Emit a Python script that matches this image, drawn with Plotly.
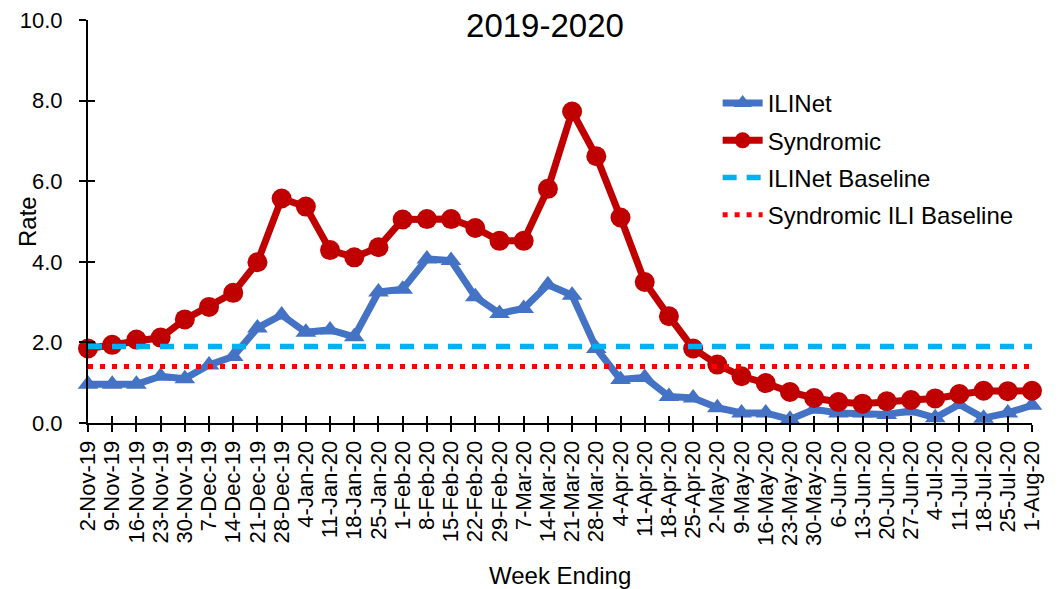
import plotly.graph_objects as go

weeks = ["2-Nov-19", "9-Nov-19", "16-Nov-19", "23-Nov-19", "30-Nov-19",
         "7-Dec-19", "14-Dec-19", "21-Dec-19", "28-Dec-19",
         "4-Jan-20", "11-Jan-20", "18-Jan-20", "25-Jan-20",
         "1-Feb-20", "8-Feb-20", "15-Feb-20", "22-Feb-20", "29-Feb-20",
         "7-Mar-20", "14-Mar-20", "21-Mar-20", "28-Mar-20",
         "4-Apr-20", "11-Apr-20", "18-Apr-20", "25-Apr-20",
         "2-May-20", "9-May-20", "16-May-20", "23-May-20", "30-May-20",
         "6-Jun-20", "13-Jun-20", "20-Jun-20", "27-Jun-20",
         "4-Jul-20", "11-Jul-20", "18-Jul-20", "25-Jul-20", "1-Aug-20"]

ilinet = [0.96, 0.96, 0.96, 1.16, 1.10, 1.44, 1.65, 2.36, 2.68, 2.25,
          2.31, 2.14, 3.25, 3.32, 4.07, 4.03, 3.13, 2.72, 2.84, 3.43,
          3.17, 1.85, 1.08, 1.13, 0.66, 0.62, 0.38, 0.25, 0.25, 0.09,
          0.34, 0.25, 0.25, 0.21, 0.30, 0.13, 0.46, 0.12, 0.25, 0.44]

syndromic = [1.85, 1.94, 2.07, 2.12, 2.57, 2.88, 3.23, 3.99, 5.57, 5.37,
             4.29, 4.11, 4.36, 5.05, 5.06, 5.06, 4.84, 4.52, 4.52, 5.81,
             7.73, 6.62, 5.10, 3.50, 2.65, 1.85, 1.45, 1.16, 0.99, 0.77,
             0.62, 0.52, 0.48, 0.54, 0.57, 0.61, 0.72, 0.80, 0.79, 0.80]

ilinet_baseline = 1.9
syndromic_baseline = 1.4

y_ticks = [0, 2, 4, 6, 8, 10]

FONT = "Liberation Sans"

fig = go.Figure()
fig.add_trace(go.Scatter(
    x=weeks, y=ilinet, name="ILINet", mode="lines+markers", legendgroup="a",
    line=dict(color="#4472C4", width=7),
    marker=dict(symbol="triangle-up", size=18, color="#4472C4"),
    cliponaxis=False))
fig.add_trace(go.Scatter(
    x=weeks, y=syndromic, name="Syndromic", mode="lines+markers", legendgroup="b",
    line=dict(color="#C00000", width=7),
    marker=dict(symbol="circle", size=20, color="#C00000"),
    cliponaxis=False))
fig.add_trace(go.Scatter(
    x=weeks, y=[ilinet_baseline] * len(weeks), name="ILINet Baseline", legendgroup="c",
    mode="lines", line=dict(color="#00B0F0", width=5.5, dash="14px,10px")))
fig.add_trace(go.Scatter(
    x=weeks, y=[syndromic_baseline] * len(weeks), name="Syndromic ILI Baseline",
    legendgroup="d",
    mode="lines", line=dict(color="#FF0000", width=5, dash="5px,7px")))

# overlay axes to give tick marks that cross the axis lines
fig.add_trace(go.Scatter(x=[0, len(weeks) - 1], y=[0, 10], xaxis="x2", yaxis="y2",
                         mode="markers", marker=dict(opacity=0), showlegend=False,
                         hoverinfo="skip"))

PLOT_H = 403  # plot area height in pixels (top at 20, bottom at 423 on the page)

fig.update_layout(
    width=1056, height=581,
    margin=dict(l=80, r=32, t=12, b=166, autoexpand=False),
    paper_bgcolor="white", plot_bgcolor="white",
    font=dict(family=FONT, color="black", size=22),
    title=dict(text="2019-2020", x=0.5085, xanchor="center", y=0.9707, yanchor="middle",
               font=dict(family=FONT, size=33, color="black")),
    showlegend=True,
    legend=dict(x=0.667, xanchor="left", y=(423 - 81) / PLOT_H, yanchor="top",
                font=dict(family=FONT, size=24, color="black"),
                bgcolor="rgba(0,0,0,0)", tracegroupgap=3, itemwidth=40),
    xaxis=dict(type="category", range=[0, len(weeks) - 1], tickangle=-90,
               tickmode="linear", tick0=0, dtick=1, automargin=False,
               ticklabeloverflow="allow",
               showline=True, linecolor="black", linewidth=2,
               ticks="outside", ticklen=7, tickwidth=2, tickcolor="black",
               showgrid=False, zeroline=False,
               tickfont=dict(family=FONT, size=22, color="black")),
    yaxis=dict(range=[0, 10], tickvals=y_ticks, tickformat=".1f", automargin=False,
               ticklabeloverflow="allow",
               showline=True, linecolor="black", linewidth=2,
               ticks="outside", ticklen=7, tickwidth=2, tickcolor="black",
               showgrid=False, zeroline=False, ticklabelstandoff=12,
               tickfont=dict(family=FONT, size=22, color="black")),
    xaxis2=dict(overlaying="x", anchor="y2", range=[0, len(weeks) - 1], dtick=1,
                ticks="inside", ticklen=7, tickwidth=2, tickcolor="black", automargin=False,
                showticklabels=False, showgrid=False, zeroline=False, showline=False),
    yaxis2=dict(overlaying="y", anchor="x2", side="left", range=[0, 10], tickvals=y_ticks,
                ticks="inside", ticklen=7, tickwidth=2, tickcolor="black", automargin=False,
                showticklabels=False, showgrid=False, zeroline=False, showline=False),
    annotations=[
        dict(text="Week Ending", xref="paper", yref="paper",
             x=(560 - 88) / 944, y=-(575 - 423) / PLOT_H, xanchor="center", yanchor="middle",
             showarrow=False, font=dict(family=FONT, size=24, color="black")),
        dict(text="Rate", xref="paper", yref="paper", textangle=-90,
             x=(27 - 88) / 944, y=(423 - 222) / PLOT_H, xanchor="center", yanchor="middle",
             showarrow=False, font=dict(family=FONT, size=24, color="black")),
    ],
)

fig.write_html("out.html")
